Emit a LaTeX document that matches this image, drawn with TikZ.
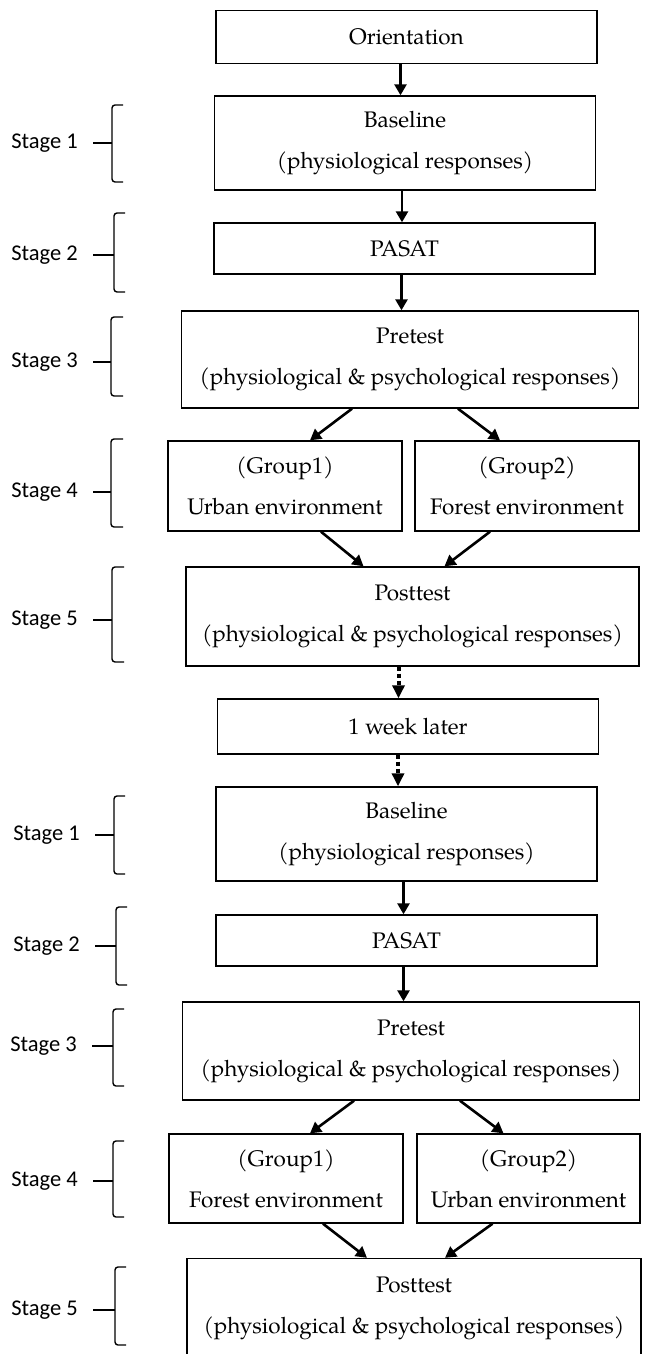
\documentclass[tikz,border=0pt]{standalone}
\usepackage{fontspec}
\newfontfamily\boxfont{texgyrepagella}[Extension=.otf, UprightFont=*-regular]
\newfontfamily\stagefont{Carlito}
\usetikzlibrary{positioning, arrows.meta}
\tikzset{
flowbox/.style={draw, line width=1.4pt, inner sep=0pt, align=center, minimum width=381pt, minimum height=53pt, font=\boxfont\fontsize{22.5}{41}\selectfont}, % plain steps of the session
longbox/.style={flowbox, minimum width=457pt, minimum height=97pt}, % pretest and posttest
groupbox/.style={flowbox, minimum height=90pt}, % the two groups side by side
stagelabel/.style={anchor=east, inner sep=0pt, font=\stagefont\fontsize{22.5}{24}\selectfont}, % stage names on the left
bracket/.style={line width=1.4pt, rounded corners=3pt}, % brace next to a stage name
flow/.style={line width=2.6pt, -{Triangle[length=11pt, width=12pt]}}, % solid arrows
later/.style={line width=4pt, dash pattern=on 4pt off 3pt, -{Triangle[length=13pt, width=12pt]}}, % dotted arrows around the week
}

\begin{document}
\begin{tikzpicture}[x=1pt, y=-1pt]
    \useasboundingbox (0,0) rectangle (646,1354);
    % First session
    \node[flowbox] (orient) at (406.5,37) {Orientation};
    \node[flowbox, minimum height=94pt] (base1) at (405,143) {Baseline\\(physiological responses)};
    \node[flowbox, minimum height=51pt] (pasat1) at (404.5,248.5) {PASAT};
    \node[longbox] (pre1) at (410,359.5) {Pretest\\(physiological \& psychological responses)};
    \node[groupbox, minimum width=234pt] (grpA1) at (285,486) {(Group1)\\Urban environment};
    \node[groupbox, minimum width=224pt] (grpB1) at (527,486) {(Group2)\\Forest environment};
    \node[longbox, minimum width=453pt, minimum height=99pt] (post1) at (412.5,616.5) {Posttest\\(physiological \& psychological responses)};
    \node[flowbox, minimum height=55pt] (week) at (408,726.5) {1 week later};
    % Second session
    \node[flowbox, minimum height=94pt] (base2) at (406.5,834) {Baseline\\(physiological responses)};
    \node[flowbox, minimum height=51pt] (pasat2) at (406.5,940.5) {PASAT};
    \node[longbox, minimum height=98pt] (pre2) at (411,1051) {Pretest\\(physiological \& psychological responses)};
    \node[groupbox, minimum width=234pt, minimum height=89pt] (grpA2) at (286,1178.5) {(Group1)\\Forest environment};
    \node[groupbox, minimum width=223pt, minimum height=89pt] (grpB2) at (528.5,1178.5) {(Group2)\\Urban environment};
    \node[longbox, minimum width=454pt, minimum height=99pt] (post2) at (414,1308) {Posttest\\(physiological \& psychological responses)};

    \draw[flow] ([xshift=-6pt]orient.south) -- ([xshift=-6pt]orient.south |- base1.north);
    \draw[flow] ([xshift=-3pt]base1.south) -- ([xshift=-3pt]base1.south |- pasat1.north);
    \draw[flow] ([xshift=-3pt]pasat1.south) -- ([xshift=-3pt]pasat1.south |- pre1.north);
    \draw[flow] ([xshift=-58pt]pre1.south) -- ([xshift=25pt]grpA1.north);
    \draw[flow] ([xshift=48pt]pre1.south) -- ([xshift=-27pt]grpB1.north);
    \draw[flow] ([xshift=36pt]grpA1.south) -- ([xshift=-49pt]post1.north);
    \draw[flow] ([xshift=-37pt]grpB1.south) -- ([xshift=32pt]post1.north);
    \draw[later] ([xshift=-14pt]post1.south) -- ([xshift=-14pt]post1.south |- week.north);
    \draw[later] ([xshift=-10pt]week.south) -- ([xshift=-10pt]week.south |- base2.north);
    \draw[flow] ([xshift=-3pt]base2.south) -- ([xshift=-3pt]base2.south |- pasat2.north);
    \draw[flow] ([xshift=-3pt]pasat2.south) -- ([xshift=-3pt]pasat2.south |- pre2.north);
    \draw[flow] ([xshift=-57pt]pre2.south) -- ([xshift=24pt]grpA2.north);
    \draw[flow] ([xshift=49pt]pre2.south) -- ([xshift=-25pt]grpB2.north);
    \draw[flow] ([xshift=37pt]grpA2.south) -- ([xshift=-47pt]post2.north);
    \draw[flow] ([xshift=-36pt]grpB2.south) -- ([xshift=31pt]post2.north);

    % Stages
    \node[stagelabel] (s1a) at (78,143) {Stage 1};
    \node[stagelabel] (s2a) at (78,255) {Stage 2};
    \node[stagelabel] (s3a) at (78,362) {Stage 3};
    \node[stagelabel] (s4a) at (78,492) {Stage 4};
    \node[stagelabel] (s5a) at (78,620) {Stage 5};
    \node[stagelabel] (s1b) at (80,835) {Stage 1};
    \node[stagelabel] (s2b) at (80,946) {Stage 2};
    \node[stagelabel] (s3b) at (77,1046) {Stage 3};
    \node[stagelabel] (s4b) at (78,1181) {Stage 4};
    \node[stagelabel] (s5b) at (78,1310) {Stage 5};
    \coordinate (k1a) at (112,143);
    \coordinate (k2a) at (114,255);
    \coordinate (k3a) at (111,362);
    \coordinate (k4a) at (111,492);
    \coordinate (k5a) at (112,620);
    \coordinate (k1b) at (114,835);
    \coordinate (k2b) at (116,946);
    \coordinate (k3b) at (113,1046);
    \coordinate (k4b) at (113,1181);
    \coordinate (k5b) at (115,1310);
    \draw[bracket] (123,105) -| (k1a) |- (123,182);
    \draw[bracket] (125,213) -| (k2a) |- (125,292);
    \draw[bracket] (123,317) -| (k3a) |- (123,396);
    \draw[bracket] (123,439) -| (k4a) |- (123,527);
    \draw[bracket] (124,567) -| (k5a) |- (124,662);
    \draw[bracket] (125,796) -| (k1b) |- (125,874);
    \draw[bracket] (127,907) -| (k2b) |- (127,985);
    \draw[bracket] (124,1009) -| (k3b) |- (124,1086);
    \draw[bracket] (124,1141) -| (k4b) |- (124,1217);
    \draw[bracket] (126,1267) -| (k5b) |- (126,1345);
    \draw[bracket, shorten <=15pt] (s1a) -- (k1a);
    \draw[bracket, shorten <=15pt] (s2a) -- (k2a);
    \draw[bracket, shorten <=15pt] (s3a) -- (k3a);
    \draw[bracket, shorten <=15pt] (s4a) -- (k4a);
    \draw[bracket, shorten <=15pt] (s5a) -- (k5a);
    \draw[bracket, shorten <=15pt] (s1b) -- (k1b);
    \draw[bracket, shorten <=15pt] (s2b) -- (k2b);
    \draw[bracket, shorten <=15pt] (s3b) -- (k3b);
    \draw[bracket, shorten <=15pt] (s4b) -- (k4b);
    \draw[bracket, shorten <=15pt] (s5b) -- (k5b);
\end{tikzpicture}
\end{document}
